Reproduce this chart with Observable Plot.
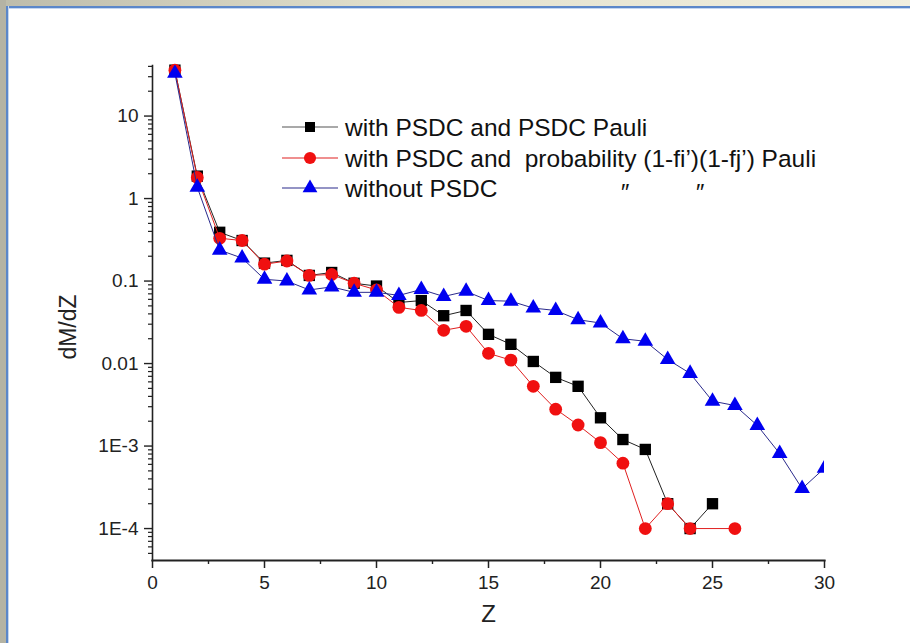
<!DOCTYPE html>
<html>
<head>
<meta charset="utf-8">
<script src="https://cdn.jsdelivr.net/npm/d3@7"></script>
<script src="https://cdn.jsdelivr.net/npm/@observablehq/plot@0.6"></script>
<style>
  html, body { margin: 0; padding: 0; background: #fff; }
  #wrap { position: relative; width: 910px; height: 643px; overflow: hidden; background: #fff; font-family: "Liberation Sans", Arial, sans-serif; }
  #topbar { position: absolute; left: 0; top: 0; width: 910px; height: 6px; background: linear-gradient(to right, #bdbcab, #e3e1cd 45%, #f1efdf); z-index: 3; }
  #topline { position: absolute; left: 6px; top: 6px; width: 904px; height: 2px; background: #5b87c9; z-index: 3; border-bottom: 1px solid #c4d6f0; }
  #leftbar { position: absolute; left: 0; top: 0; width: 6px; height: 643px; background: #b4b3a4; z-index: 3; }
  #leftline { position: absolute; left: 6px; top: 6px; width: 2px; height: 637px; background: #5b87c9; z-index: 3; border-right: 1px solid #c4d6f0; }
  #chart { position: absolute; left: 0; top: 0; }
</style>
</head>
<body>
<div id="wrap">
  <div id="chart"></div>
  <div id="topbar"></div><div id="topline"></div>
  <div id="leftbar"></div><div id="leftline"></div>
</div>
<script>
// ---------- data ----------
const seriesNames = [
  "with PSDC and PSDC Pauli",
  "with PSDC and\u00a0 probability (1-fi\u2019)(1-fj\u2019) Pauli",
  "without PSDC"
];
const blackZ = [1,2,3,4,5,6,7,8,9,10,11,12,13,14,15,16,17,18,19,20,21,22,23,24,25];
const blackV = [36,1.87,0.39,0.31,0.165,0.178,0.117,0.127,0.094,0.087,0.055,0.058,0.038,0.044,0.0226,0.0171,0.0106,0.0068,0.0053,0.0022,0.0012,0.00091,0.0002,0.0001,0.0002];
const redZ = [1,2,3,4,5,6,7,8,9,10,11,12,13,14,15,16,17,18,19,20,21,22,23,24,26];
const redV = [36,1.8,0.33,0.31,0.16,0.175,0.117,0.12,0.094,0.078,0.048,0.044,0.0253,0.0283,0.0133,0.011,0.0053,0.0028,0.0018,0.0011,0.00062,0.0001,0.0002,0.0001,0.0001];
const blueZ = [1,2,3,4,5,6,7,8,9,10,11,12,13,14,15,16,17,18,19,20,21,22,23,24,25,26,27,28,29,30];
const blueV = [33,1.37,0.237,0.19,0.105,0.10,0.078,0.085,0.073,0.073,0.067,0.079,0.065,0.075,0.058,0.057,0.047,0.044,0.034,0.031,0.020,0.0186,0.0112,0.0076,0.0035,0.0031,0.00178,0.00081,0.000305,0.00054];
const xTicks = [0,5,10,15,20,25,30];
const xMinorTicks = [2.5,7.5,12.5,17.5,22.5,27.5];
const yTicks = [10,1,0.1,0.01,0.001,0.0001];
const yTickLabels = ["10","1","0.1","0.01","1E-3","1E-4"];
const xLabel = "Z";
const yLabel = "dM/dZ";

const toRows = (zs, vs) => zs.map((z, i) => ({z, v: vs[i]}));
const black = toRows(blackZ, blackV);
const red = toRows(redZ, redV);
const blue = toRows(blueZ, blueV);

const yMin = 4.1e-5, yMax = 41;
const yMinor = [];
for (let e = -5; e <= 1; e++) for (let m = 2; m <= 9; m++) {
  const v = m * Math.pow(10, e);
  if (v >= yMin && v <= yMax) yMinor.push(v);
}

const font = "Liberation Sans, Arial, sans-serif";

const plot = Plot.plot({
  width: 910, height: 643,
  marginLeft: 152, marginRight: 86, marginTop: 65, marginBottom: 83,
  style: {background: "transparent", fontFamily: font, fontSize: "19px", color: "#222"},
  x: {domain: [0, 30]},
  y: {type: "log", domain: [yMin, yMax]},
  marks: [
    Plot.axisY(yMinor, {tickSize: 4, tickFormat: () => "", stroke: "#222", strokeWidth: 1.2, label: null}),
    Plot.axisY(yTicks, {tickSize: 8, tickPadding: 6, tickFormat: (d) => yTickLabels[yTicks.indexOf(d)], stroke: "#222", strokeWidth: 1.4, fontSize: 19, label: null}),
    Plot.axisX(xMinorTicks, {tickSize: 4, tickFormat: () => "", stroke: "#222", strokeWidth: 1.4, label: null}),
    Plot.axisX(xTicks, {tickSize: 8, tickPadding: 7, stroke: "#222", strokeWidth: 1.5, fontSize: 19, label: null}),
    Plot.frame({anchor: "left", stroke: "#222", strokeWidth: 1.6}),
    Plot.frame({anchor: "bottom", stroke: "#222", strokeWidth: 2.2}),
    Plot.text([xLabel], {frameAnchor: "bottom", dy: 61, fontSize: 24, fill: "#222"}),
    Plot.line(black, {x: "z", y: "v", stroke: "#222", strokeWidth: 1}),
    Plot.dot(black, {x: "z", y: "v", symbol: "square", r: 6.4, fill: "#000", stroke: "none"}),
    Plot.line(red, {x: "z", y: "v", stroke: "#e02020", strokeWidth: 1}),
    Plot.dot(red, {x: "z", y: "v", symbol: "circle", r: 6.4, fill: "#f01010", stroke: "none"}),
    Plot.line(blue, {x: "z", y: "v", stroke: "#2a2a8c", strokeWidth: 1, clip: true}),
    Plot.dot(blue, {x: "z", y: "v", symbol: "triangle", r: 5.8, fill: "#0000f0", stroke: "none", clip: true})
  ]
});
document.getElementById("chart").appendChild(plot);

const svg = d3.select(plot);
// y axis title
svg.append("text")
  .attr("transform", "translate(68,327) rotate(-90)")
  .attr("text-anchor", "middle").attr("dy", "0.35em")
  .attr("font-family", font).attr("font-size", 23).attr("fill", "#222")
  .text(yLabel);

// ---------- legend ----------
const leg = svg.append("g").attr("font-family", font).attr("font-size", 24.5)
  .attr("fill", "#111").attr("text-anchor", "start");
const rows = [
  {y: 127, line: "#555", sym: "square", fill: "#000", size: 100},
  {y: 158, line: "#e02020", sym: "circle", fill: "#f01010", size: 115},
  {y: 188, line: "#2a2a8c", sym: "triangle", fill: "#0000f0", size: 95}
];
const symMap = {square: d3.symbolSquare, circle: d3.symbolCircle, triangle: d3.symbolTriangle};
rows.forEach((r, i) => {
  leg.append("line").attr("x1", 282).attr("x2", 338).attr("y1", r.y).attr("y2", r.y)
    .attr("stroke", r.line).attr("stroke-width", 1.2);
  leg.append("path").attr("d", d3.symbol(symMap[r.sym], r.size)())
    .attr("transform", `translate(310,${r.y})`).attr("fill", r.fill);
  leg.append("text").attr("x", 345).attr("y", r.y).attr("dy", "0.35em").text(seriesNames[i]);
});
leg.append("text").attr("x", 624).attr("y", 188).attr("dy", "0.55em").attr("text-anchor", "middle").attr("font-style", "italic").attr("font-size", 24).text("\u2033");
leg.append("text").attr("x", 699).attr("y", 188).attr("dy", "0.55em").attr("text-anchor", "middle").attr("font-style", "italic").attr("font-size", 24).text("\u2033");
</script>
</body>
</html>
